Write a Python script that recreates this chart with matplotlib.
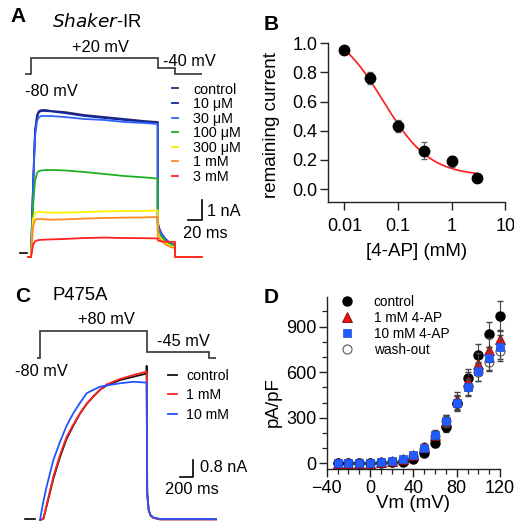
import numpy as np
import matplotlib
matplotlib.use("Agg")
import matplotlib.pyplot as plt
from matplotlib.ticker import FixedLocator, MultipleLocator, LogLocator, NullFormatter

plt.rcParams["font.family"] = ["Liberation Sans", "DejaVu Sans"]

# ---- panel A: Shaker-IR traces (time in ms, current in nA) ----
A_step_edges = [-9, 0, 190, 216, 256]
A_step_levels = [-80, 20, -40, -80]

A_labels = ["control", "10 μM", "30 μM", "100 μM", "300 μM", "1 mM", "3 mM"]
A_colors = ["#2a2672", "#10279a", "#2f62ff", "#22b022", "#ffee00", "#ff8a1f", "#ff2222"]

A_pre_t = [-4.5, 0]
A_rise_t = [0, 3, 6, 9, 12, 16, 22, 30, 50, 80, 110, 140, 170, 190]
A_tail_t = [190, 192, 196, 201, 206, 211, 216]
A_post_t = [216, 256]

A_control = [0, 3.5, 6.3, 7.1, 7.3, 7.35, 7.35, 7.3, 7.25, 7.1, 7.0, 6.9, 6.8, 6.75]
A_10uM = [0, 3.4, 6.2, 7.0, 7.25, 7.3, 7.3, 7.28, 7.2, 7.05, 6.95, 6.85, 6.75, 6.7]
A_30uM = [0, 3.3, 6.0, 6.8, 7.0, 7.05, 7.05, 7.05, 7.0, 6.9, 6.85, 6.75, 6.7, 6.65]
A_100uM = [0, 2.5, 3.8, 4.2, 4.3, 4.33, 4.35, 4.35, 4.33, 4.25, 4.15, 4.05, 3.98, 3.92]
A_300uM = [0, 1.9, 2.2, 2.25, 2.25, 2.25, 2.23, 2.22, 2.22, 2.25, 2.28, 2.3, 2.3, 2.33]
A_1mM = [0, 1.5, 1.85, 1.9, 1.9, 1.9, 1.88, 1.87, 1.88, 1.92, 1.95, 1.97, 1.98, 2.0]
A_3mM = [0, 0.6, 0.78, 0.83, 0.85, 0.86, 0.87, 0.88, 0.9, 0.95, 0.97, 0.95, 0.94, 0.93]

A_control_tail = [1.75, 1.45, 1.15, 0.92, 0.77, 0.66, 0.6]
A_10uM_tail = [1.7, 1.42, 1.12, 0.9, 0.75, 0.65, 0.58]
A_30uM_tail = [1.65, 1.4, 1.1, 0.88, 0.74, 0.64, 0.58]
A_100uM_tail = [1.4, 1.2, 0.98, 0.82, 0.7, 0.62, 0.57]
A_300uM_tail = [1.25, 1.05, 0.85, 0.7, 0.6, 0.52, 0.48]
A_1mM_tail = [1.1, 0.95, 0.78, 0.65, 0.55, 0.48, 0.44]
A_3mM_tail = [0.85, 0.8, 0.78, 0.77, 0.76, 0.76, 0.75]

# ---- panel B: dose response ----
B_conc = [0.01, 0.03, 0.1, 0.3, 1, 3]
B_remaining = [0.955, 0.76, 0.435, 0.265, 0.19, 0.08]
B_err = [0.02, 0.04, 0.04, 0.06, 0.04, 0.02]
B_fit_top, B_fit_bottom, B_fit_ic50, B_fit_n = 1.12, 0.09, 0.053, 1.0

# ---- panel C: P475A traces (time in ms, current in nA) ----
C_step_edges = [-45, 0, 1600, 2530, 2640]
C_step_levels = [-80, 80, -45, -80]

C_labels = ["control", "1 mM", "10 mM"]
C_colors = ["#111111", "#ff2222", "#2255ff"]

C_rise_t = [0, 50, 100, 200, 300, 400, 500, 600, 700, 800, 900, 1000, 1200, 1400, 1600]
C_tail_t = [1600, 1608, 1630, 1660, 1700, 1800, 2640]

C_control = [0, 0.05, 0.65, 1.9, 2.9, 3.75, 4.35, 4.9, 5.35, 5.7, 6.0, 6.2, 6.45, 6.6, 6.75]
C_1mM = [0, 0.05, 0.7, 2.0, 3.0, 3.84, 4.4, 4.92, 5.35, 5.68, 6.0, 6.25, 6.5, 6.68, 6.84]
C_10mM = [0, 0.85, 1.55, 2.76, 3.6, 4.35, 4.92, 5.4, 5.84, 6.0, 6.14, 6.2, 6.3, 6.37, 6.33]

C_control_tail = [7.1, 1.3, 0.45, 0.2, 0.1, 0.03, 0.03]
C_1mM_tail = [6.84, 1.2, 0.45, 0.2, 0.1, 0.03, 0.03]
C_10mM_tail = [6.33, 1.2, 0.45, 0.22, 0.12, 0.05, 0.05]

# ---- panel D: I-V ----
D_vm = [-30, -20, -10, 0, 10, 20, 30, 40, 50, 60, 70, 80, 90, 100, 110, 120]
D_control = [0, 0, 0, 0, 2, 5, 10, 25, 65, 135, 240, 400, 560, 710, 848, 970]
D_control_err = [3, 3, 3, 3, 3, 4, 6, 10, 15, 25, 35, 45, 60, 75, 85, 100]
D_1mM = [3, 3, 3, 4, 8, 15, 28, 55, 110, 187, 280, 418, 540, 655, 745, 820]
D_1mM_err = [2, 2, 2, 2, 3, 5, 8, 12, 20, 30, 40, 50, 60, 70, 80, 60]
D_10mM = [2, 2, 3, 3, 6, 12, 25, 55, 103, 187, 280, 400, 500, 605, 692, 765]
D_10mM_err = [2, 2, 2, 2, 3, 5, 8, 12, 20, 28, 38, 48, 58, 65, 75, 80]
D_wash = [2, 2, 2, 3, 5, 10, 20, 50, 95, 180, 275, 395, 505, 600, 665, 740]
D_wash_err = [2, 2, 2, 2, 3, 5, 8, 12, 20, 28, 38, 48, 55, 60, 60, 65]

W, H = 514, 521
fig = plt.figure(figsize=(W / 100, H / 100), dpi=100)


def px_axes(x0, x1, y0, y1):
    return fig.add_axes([x0 / W, 1 - y1 / H, (x1 - x0) / W, (y1 - y0) / H])


def trace_axes(t0_px, px_per_t, zero_px, px_per_unit, xlim, ylim):
    ax = px_axes(t0_px + xlim[0] * px_per_t, t0_px + xlim[1] * px_per_t,
                 zero_px - ylim[1] * px_per_unit, zero_px - ylim[0] * px_per_unit)
    ax.set_xlim(xlim)
    ax.set_ylim(ylim)
    ax.axis("off")
    return ax


def ftext(x, y, s, **kw):
    kw.setdefault("va", "center")
    kw.setdefault("ha", "left")
    fig.text(x / W, 1 - y / H, s, **kw)


ann = 11.8
tick_fs = 13
lab_fs = 13.5

# ================= A =================
axA_v = trace_axes(31, 0.667, 61.4, 0.157, (-20, 260), (-100, 40))
axA_v.stairs(A_step_levels, A_step_edges, baseline=None, color="#333333", lw=1.2)

axA_i = trace_axes(31, 0.667, 257, 20, (-20, 260), (-0.4, 7.8))
A_rises = [A_control, A_10uM, A_30uM, A_100uM, A_300uM, A_1mM, A_3mM]
A_tails = [A_control_tail, A_10uM_tail, A_30uM_tail, A_100uM_tail,
           A_300uM_tail, A_1mM_tail, A_3mM_tail]
for rise, tail, lab, col in zip(A_rises, A_tails, A_labels, A_colors):
    t = A_pre_t + A_rise_t + A_tail_t + A_post_t
    cur = [0, 0] + rise + tail + [0, 0]
    axA_i.plot(t, cur, color=col, lw=1.3, label=lab)
axA_i.plot([236, 256, 256], [1.85, 1.85, 2.85], color="k", lw=1.2, clip_on=False)
axA_i.plot([-16.5, -6], [0.2, 0.2], color="k", lw=1.2, clip_on=False)
axA_i.legend(fontsize=10.3, loc="upper left", bbox_to_anchor=(171.7 / W, 1 - 82.5 / H),
             bbox_transform=fig.transFigure, frameon=False, handlelength=0.47,
             handletextpad=1.05, borderpad=0, borderaxespad=0, labelspacing=0.04)

ftext(10, 17, "A", fontsize=15, fontweight="bold")
ftext(52, 22, r"$\it{Shaker}$-IR", fontsize=13.3)
ftext(72, 48, "+20 mV", fontsize=ann)
ftext(163, 61, "-40 mV", fontsize=ann)
ftext(25, 91, "-80 mV", fontsize=ann)
ftext(206.7, 211.7, "1 nA", fontsize=ann)
ftext(183.3, 233.3, "20 ms", fontsize=ann)

# ================= B =================
axB = px_axes(327.7, 505.3, 43.3, 202.3)
axB.set_xscale("log")
axB.set_xlim(10 ** -2.31, 10)
axB.set_ylim(-0.09, 1.0)
xfit = np.logspace(np.log10(B_conc[0]), np.log10(B_conc[-1]), 200)
yfit = B_fit_bottom + (B_fit_top - B_fit_bottom) / (1 + (xfit / B_fit_ic50) ** B_fit_n)
axB.plot(xfit, yfit, color="#ff1a1a", lw=1.2, zorder=2)
axB.errorbar(B_conc, B_remaining, yerr=B_err, fmt="none", ecolor="#666666",
             elinewidth=0.9, capsize=2.5, zorder=2.5)
axB.plot(B_conc, B_remaining, "o", color="k", ms=7.5, zorder=3)
axB.xaxis.set_major_locator(FixedLocator([0.01, 0.1, 1, 10]))
axB.set_xticklabels(["0.01", "0.1", "1", "10"])
axB.xaxis.set_minor_locator(LogLocator(base=10, subs=np.arange(2, 10)))
axB.xaxis.set_minor_formatter(NullFormatter())
axB.set_yticks([0, 0.2, 0.4, 0.6, 0.8, 1.0])
axB.set_yticklabels(["0.0", "0.2", "0.4", "0.6", "0.8", "1.0"])
axB.set_xlabel("[4-AP] (mM)", fontsize=lab_fs, va="center")
axB.set_ylabel("remaining current", fontsize=lab_fs, va="center")
axB.xaxis.set_label_coords(416.5 / W, 1 - 252 / H, transform=fig.transFigure)
axB.yaxis.set_label_coords(271 / W, 1 - 125 / H, transform=fig.transFigure)
ftext(263.7, 24, "B", fontsize=15, fontweight="bold")

# ================= C =================
axC_v = trace_axes(40, 1 / 15, 344.5, 0.1725, (-300, 2700), (-100, 100))
axC_v.stairs(C_step_levels, C_step_edges, baseline=None, color="#333333", lw=1.2)

axC_i = trace_axes(40, 1 / 15, 520, 21.7, (-300, 2700), (-0.1, 7.6))
C_rises = [C_control, C_1mM, C_10mM]
C_tails = [C_control_tail, C_1mM_tail, C_10mM_tail]
for rise, tail, lab, col in zip(C_rises, C_tails, C_labels, C_colors):
    axC_i.plot(C_rise_t + C_tail_t, rise + tail, color=col, lw=1.3, label=lab, clip_on=False)
axC_i.plot([2100, 2300, 2300], [1.97, 1.97, 2.77], color="k", lw=1.2, clip_on=False)
axC_i.plot([-225, -75], [0.05, 0.05], color="k", lw=1.2, clip_on=False)
axC_i.legend(fontsize=10.2, loc="upper left", bbox_to_anchor=(168.3 / W, 1 - 368.5 / H),
             bbox_transform=fig.transFigure, frameon=False, handlelength=0.6,
             handletextpad=0.65, borderpad=0, borderaxespad=0, labelspacing=0.41)

ftext(15, 296, "C", fontsize=15, fontweight="bold")
ftext(53, 295, "P475A", fontsize=13.3)
ftext(78, 320, "+80 mV", fontsize=ann)
ftext(157, 342, "-45 mV", fontsize=ann)
ftext(15, 371.7, "-80 mV", fontsize=ann)
ftext(200, 468, "0.8 nA", fontsize=ann)
ftext(165, 490, "200 ms", fontsize=ann)

# ================= D =================
axD = px_axes(326.7, 500, 296.7, 469.3)
axD.set_xlim(-40, 120)
axD.set_ylim(-40, 1097)
ebkw = dict(fmt="none", ecolor="#444444", elinewidth=0.8, capsize=2)
axD.errorbar(D_vm, D_wash, yerr=D_wash_err, zorder=2, clip_on=False, **ebkw)
h_wash, = axD.plot(D_vm, D_wash, "o", mfc="white", mec="#555555", mew=0.8, ms=6.5,
                   zorder=2.1, label="wash-out", clip_on=False)
axD.errorbar(D_vm, D_control, yerr=D_control_err, zorder=2.2, clip_on=False, **ebkw)
h_ctrl, = axD.plot(D_vm, D_control, "o", color="k", ms=6.5, zorder=2.3, label="control",
                   clip_on=False)
axD.errorbar(D_vm, D_1mM, yerr=D_1mM_err, zorder=2.4, clip_on=False, **ebkw)
h_1mM, = axD.plot(D_vm, D_1mM, "^", mfc="#e81414", mec="#8a0000", mew=0.6, ms=7.5,
                  zorder=2.5, label="1 mM 4-AP", clip_on=False)
axD.errorbar(D_vm, D_10mM, yerr=D_10mM_err, zorder=2.6, clip_on=False, **ebkw)
h_10mM, = axD.plot(D_vm, D_10mM, "s", mfc="#1f5cff", mec="#1f4fd8", mew=0.5, ms=5.8,
                   zorder=2.7, label="10 mM 4-AP", clip_on=False)
axD.legend(handles=[h_ctrl, h_1mM, h_10mM, h_wash], fontsize=9.8, loc="upper left",
           bbox_to_anchor=(340.2 / W, 1 - 295 / H), bbox_transform=fig.transFigure,
           frameon=False, handlelength=1.0, handletextpad=1.46, borderpad=0,
           borderaxespad=0, labelspacing=0.14)
axD.set_xticks([-40, 0, 40, 80, 120])
axD.xaxis.set_minor_locator(MultipleLocator(10))
axD.set_yticks([0, 300, 600, 900])
axD.yaxis.set_minor_locator(MultipleLocator(100))
axD.set_xlabel("Vm (mV)", fontsize=lab_fs, va="center")
axD.set_ylabel("pA/pF", fontsize=lab_fs, va="center")
axD.xaxis.set_label_coords(413.3 / W, 1 - 504 / H, transform=fig.transFigure)
axD.yaxis.set_label_coords(273 / W, 1 - 402 / H, transform=fig.transFigure)
ftext(263.7, 297.5, "D", fontsize=15, fontweight="bold")

for ax in (axB, axD):
    for s in ("top", "right"):
        ax.spines[s].set_visible(False)
    for s in ("left", "bottom"):
        ax.spines[s].set_linewidth(1.0)
        ax.spines[s].set_color("#222222")
    ax.tick_params(which="major", direction="out", length=6, width=1.0,
                   labelsize=tick_fs, color="#222222")
    ax.tick_params(which="minor", direction="out", length=3.5, width=0.9, color="#222222")
    ax.tick_params(axis="y", which="major", pad=1.5)
axB.tick_params(axis="x", which="major", pad=5)
axD.tick_params(axis="x", which="major", pad=1.5)

fig.savefig("out.png", dpi=100)
